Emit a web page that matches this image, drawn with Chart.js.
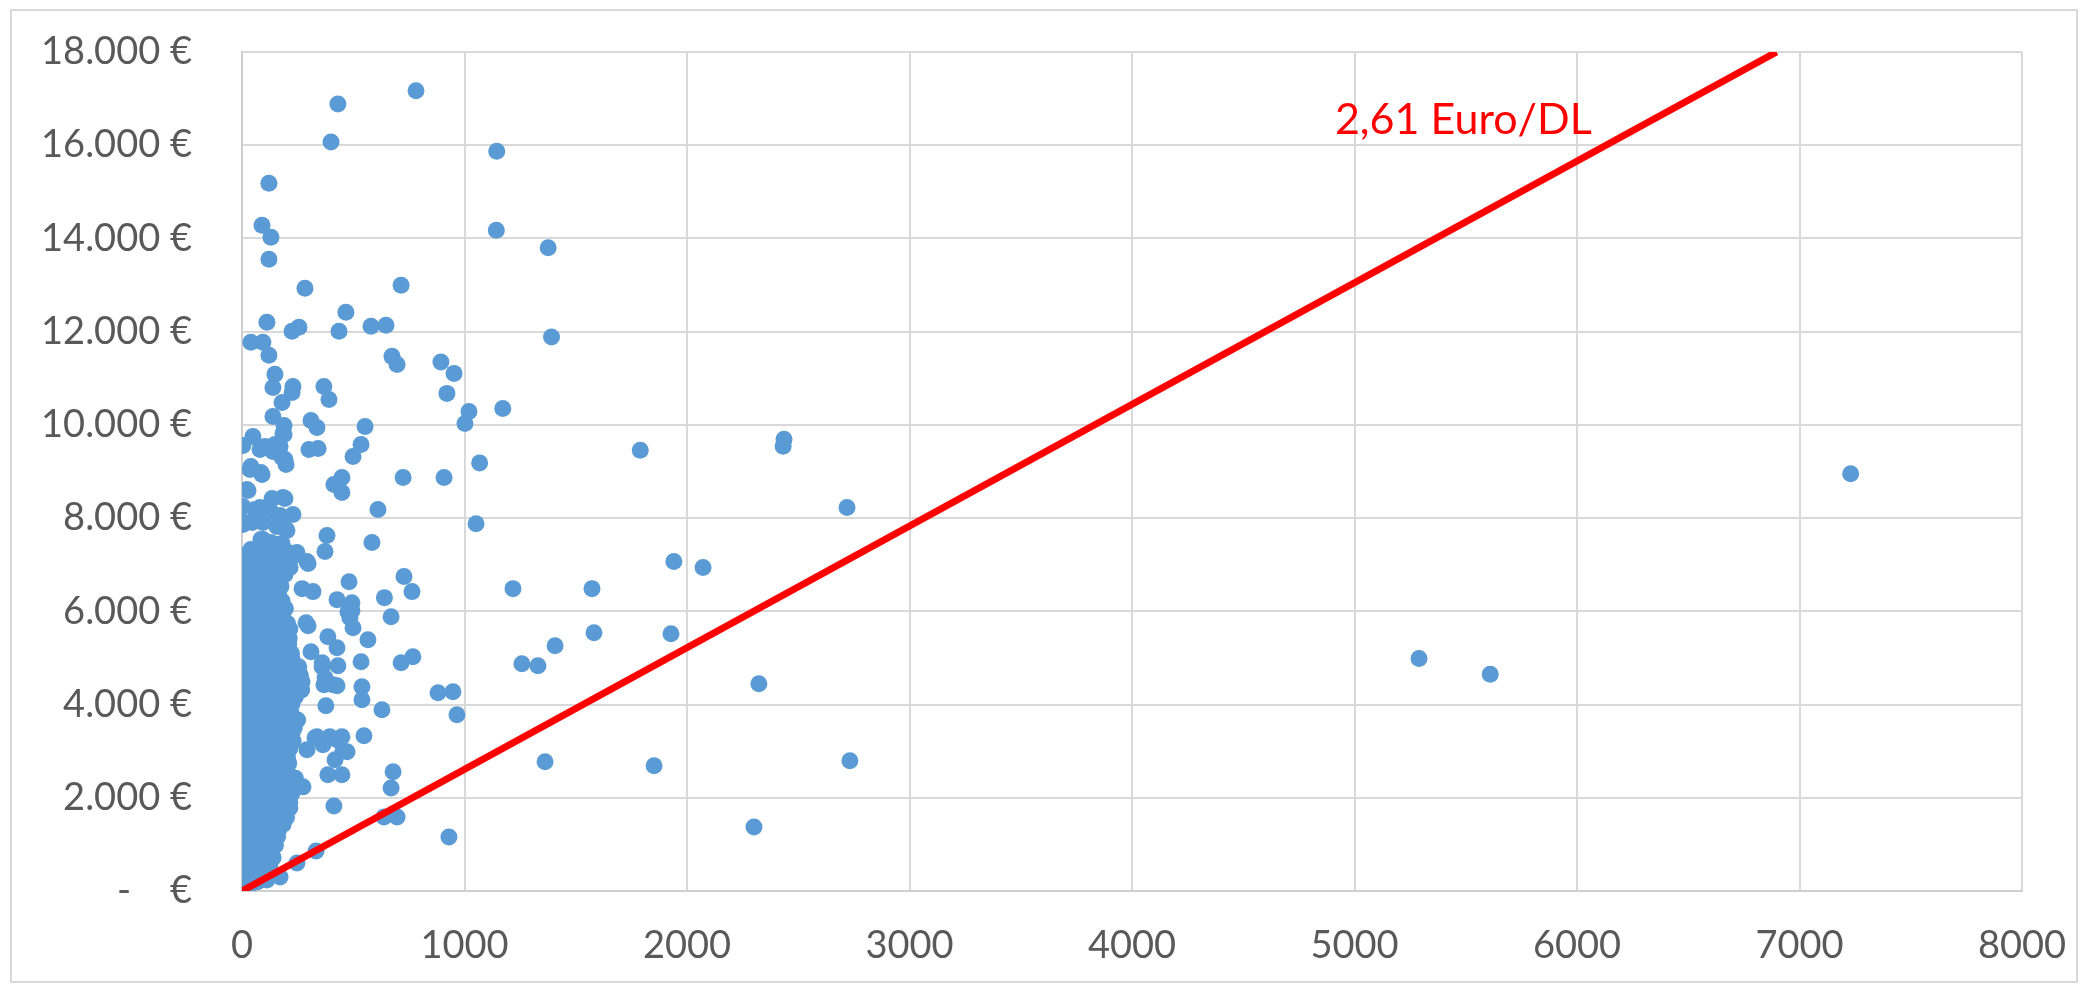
<!DOCTYPE html>
<html>
<head>
<meta charset="utf-8">
<script src="https://cdn.jsdelivr.net/npm/chart.js@4"></script>
<style>
  html, body { margin: 0; padding: 0; background: #fff; }
  canvas { display: block; }
</style>
</head>
<body>
<canvas id="graph" width="2082" height="985"></canvas>
<script>
// downloads (x) vs revenue in euro (y)

// dense cluster near zero downloads
var clusterPoints = [
    [5,60],[30,90],
    [0,180],[40,170],[70,200],
    [8,300],[48,310],[85,290],
    [2,420],[42,430],[80,410],[110,440],
    [10,560],[50,550],[90,570],[125,560],
    [0,700],[38,710],[78,690],[120,700],[140,720],
    [6,850],[46,860],[88,840],[130,850],
    [0,1000],[40,990],[85,1010],[125,1000],[150,980],
    [12,1150],[55,1160],[95,1140],[135,1150],[160,1170],
    [0,1300],[42,1310],[80,1290],[120,1300],[165,1320],
    [8,1450],[50,1440],[95,1460],[140,1450],[185,1430],
    [0,1600],[45,1610],[88,1590],[130,1600],[175,1620],[200,1580],
    [10,1760],[52,1750],[98,1770],[140,1760],[185,1740],[215,1780],
    [0,1920],[40,1930],[85,1910],[128,1920],[170,1940],[215,1900],
    [6,2080],[48,2070],[92,2090],[135,2080],[180,2060],[225,2100],
    [0,2240],[44,2250],[86,2230],[130,2240],[175,2260],[220,2220],[262,2250],
    [10,2400],[55,2390],[100,2410],[145,2400],[190,2380],[240,2420],
    [0,2560],[42,2570],[85,2550],[128,2560],[170,2580],[205,2540],
    [8,2720],[50,2710],[95,2730],[140,2720],[185,2700],[210,2740],
    [0,2880],[45,2890],[88,2870],[132,2880],[175,2900],[205,2860],
    [12,3040],[55,3030],[100,3050],[145,3040],[190,3020],[215,3060],
    [0,3200],[40,3210],[82,3190],[125,3200],[168,3220],[210,3180],[230,3210],
    [6,3360],[50,3350],[95,3370],[140,3360],[185,3340],[225,3380],
    [0,3520],[45,3530],[90,3510],[135,3520],[180,3540],[235,3500],
    [10,3680],[52,3670],[96,3690],[140,3680],[185,3660],[230,3700],[250,3670],
    [0,3840],[44,3850],[88,3830],[132,3840],[176,3860],[220,3820],
    [8,4000],[50,3990],[95,4010],[140,4000],[185,3980],[225,4020],
    [0,4160],[42,4170],[85,4150],[130,4160],[175,4180],[215,4140],[240,4170],
    [10,4320],[55,4310],[100,4330],[145,4320],[190,4300],[235,4340],[268,4310],
    [0,4480],[45,4490],[90,4470],[135,4480],[180,4500],[225,4460],[270,4490],
    [8,4640],[50,4630],[95,4650],[140,4640],[185,4620],[230,4660],[262,4630],
    [0,4800],[42,4810],[86,4790],[130,4800],[175,4820],[220,4780],[255,4810],
    [10,4960],[52,4950],[98,4970],[142,4960],[188,4940],[225,4980],
    [0,5120],[45,5130],[90,5110],[135,5120],[180,5140],[222,5100],
    [6,5280],[50,5270],[94,5290],[138,5280],[182,5260],[210,5300],
    [0,5440],[42,5450],[85,5430],[130,5440],[172,5460],[212,5420],
    [10,5600],[55,5590],[100,5610],[145,5600],[190,5580],[215,5620],
    [0,5760],[45,5770],[90,5750],[135,5760],[180,5780],[205,5740],
    [8,5920],[50,5910],[95,5930],[140,5920],[182,5900],
    [0,6080],[42,6090],[86,6070],[130,6080],[170,6100],[195,6060],
    [10,6240],[52,6230],[98,6250],[140,6240],[180,6220],
    [0,6400],[45,6410],[90,6390],[130,6400],[165,6420],
    [8,6560],[50,6550],[92,6570],[135,6560],[175,6540],
    [0,6720],[40,6730],[85,6710],[125,6720],[160,6740],
    [10,6880],[55,6870],[98,6890],[140,6880],
    [0,7040],[45,7050],[88,7030],[125,7040],
    [5,7200],[50,7190],[92,7210]
];

// thinner part of the cluster, 7000 - 10000 euro
var upperClusterPoints = [
    [49,9752],[184,9816],[4,9559],[103,9537],[148,9580],[171,9537],[81,9473],[139,9430],
    [193,9258],[180,9301],[40,9107],[198,9150],[85,8979],[36,9043],[90,8936],[27,8592],
    [22,8613],[184,8442],[135,8420],[193,8420],[4,8248],[58,8184],[130,8141],[112,8141],
    [229,8076],[171,8055],[81,8227],[13,7905],[45,7905],[94,7905],[184,7947],[157,7818],
    [198,7754],[202,7732],[40,7325],[85,7539],[94,7539],[130,7475],[157,7432],[180,7453],
    [126,7260],[207,7260],[229,7175],[247,7260],[162,7110],[238,7217],[297,7024],[193,6788],
    [216,6938],[4,7861]
];

// everything else
var scatterPoints = [
    [782,17170],[431,16883],[400,16067],[1145,15870],[121,15186],[90,14284],[130,14026],[1143,14177],
    [121,13554],[1376,13800],[283,12931],[715,12995],[467,12415],[112,12201],[225,12007],[256,12093],
    [436,12007],[580,12115],[647,12136],[40,11771],[94,11771],[1391,11885],[121,11492],[674,11470],
    [697,11298],[894,11350],[953,11105],[148,11084],[139,10804],[229,10826],[225,10697],[368,10826],
    [391,10547],[921,10676],[180,10482],[1172,10353],[1020,10289],[1002,10031],[139,10182],[189,9988],
    [189,9795],[310,10096],[337,9945],[553,9967],[535,9580],[499,9322],[301,9473],[342,9494],
    [1068,9185],[1790,9455],[2436,9690],[2432,9540],[724,8871],[908,8871],[449,8871],[413,8721],
    [449,8549],[2719,8230],[7230,8950],[611,8184],[1052,7880],[382,7625],[373,7282],[584,7475],
    [728,6745],[764,6423],[1218,6487],[1573,6487],[1941,7067],[2072,6938],[481,6637],[640,6294],
    [292,7067],[270,6487],[319,6423],[427,6251],[494,6186],
    [297,5692],[288,5757],[386,5456],[427,5220],[566,5391],[499,5649],[485,5864],[476,5993],
    [494,6015],[670,5885],[310,5134],[360,4812],[431,4833],[360,4898],[535,4919],[715,4898],
    [768,5026],[1258,4876],[1330,4833],[1407,5263],[1582,5542],[1928,5520],[2323,4446],[368,4425],
    [427,4403],[409,4425],[373,4575],[539,4382],[539,4103],[377,3974],[629,3888],[881,4253],
    [948,4275],[966,3780],[337,3308],[395,3308],[449,3308],[328,3286],[427,3243],[364,3136],
    [548,3329],[292,3029],[454,3007],[472,2986],[418,2814],[386,2492],[449,2492],[679,2556],
    [670,2212],[274,2234],[413,1826],[638,1590],[697,1590],[930,1160],[333,859],[247,601],
    [171,301],[112,236],[1362,2771],[1852,2685],[2732,2792],[2301,1375],[5290,4990],[5610,4650]
];

// red reference line, 2,61 euro per download
var rateLineX = [0, 6897];
var rateLineY = [0, 18000];
var rateLabel = '2,61 Euro/DL';

var yTickLabels = ['-    €', '2.000 €', '4.000 €', '6.000 €', '8.000 €', '10.000 €', '12.000 €', '14.000 €', '16.000 €', '18.000 €'];
var xTickLabels = ['0', '1000', '2000', '3000', '4000', '5000', '6000', '7000', '8000'];

var toXY = function(p) { return { x: p[0], y: p[1] }; };
var allPoints = clusterPoints.concat(upperClusterPoints, scatterPoints).map(toXY);
var lineData = rateLineX.map(function(x, i) { return { x: x, y: rateLineY[i] }; });

var textGrey = '#595959';
var gridGrey = '#d9d9d9';

// cadre autour + label de la droite
var framePlugin = {
    id: 'frame',
    beforeDraw: function(chart) {
        var c = chart.ctx;
        c.save();
        c.fillStyle = '#fff';
        c.fillRect(0, 0, chart.width, chart.height);
        c.strokeStyle = gridGrey;
        c.lineWidth = 2;
        c.strokeRect(11, 10, chart.width - 16, chart.height - 13);
        c.restore();
    },
    afterDatasetsDraw: function(chart) {
        var c = chart.ctx;
        c.save();
        c.font = '43px Lato';
        c.fillStyle = '#ff0000';
        c.textAlign = 'left';
        c.textBaseline = 'alphabetic';
        c.fillText(rateLabel, chart.scales.x.getPixelForValue(4912), chart.scales.y.getPixelForValue(16240));
        c.restore();
    }
};

var config = {
    type: 'scatter',
    data: {
        datasets: [{
            type: 'line',
            data: lineData,
            borderColor: '#ff0000',
            borderWidth: 7,
            pointRadius: 0,
            fill: false,
            tension: 0
        }, {
            data: allPoints,
            backgroundColor: '#5b9bd5',
            borderColor: '#5b9bd5',
            borderWidth: 0,
            pointRadius: 8.5
        }]
    },
    options: {
        responsive: false,
        animation: false,
        layout: { padding: { left: 0, top: 52, right: 60, bottom: 0 } },
        plugins: { legend: { display: false }, tooltip: { enabled: false } },
        scales: {
            x: {
                type: 'linear',
                min: 0,
                max: 8000,
                // plot area fixed, labels handled by layout padding
                afterFit: function(s) { s.height = 94; s.paddingLeft = 0; s.paddingRight = 0; },
                ticks: {
                    stepSize: 1000,
                    padding: 32,
                    color: textGrey,
                    font: { family: 'Lato', size: 38 },
                    callback: function(v) { return xTickLabels[Math.round(v / 1000)]; }
                },
                grid: { color: gridGrey, lineWidth: 2, drawTicks: false },
                border: { color: '#cfcfcf', width: 2 }
            },
            y: {
                min: 0,
                max: 18000,
                afterFit: function(s) { s.width = 242; s.paddingTop = 0; s.paddingBottom = 0; },
                ticks: {
                    stepSize: 2000,
                    padding: 50,
                    color: textGrey,
                    font: { family: 'Lato', size: 38 },
                    callback: function(v) { return yTickLabels[Math.round(v / 2000)]; }
                },
                grid: { color: gridGrey, lineWidth: 2, drawTicks: false },
                border: { color: '#cfcfcf', width: 2 }
            }
        }
    },
    plugins: [framePlugin]
};

var ctx = document.getElementById('graph').getContext('2d');
window.myChart = new Chart(ctx, config);
</script>
</body>
</html>
